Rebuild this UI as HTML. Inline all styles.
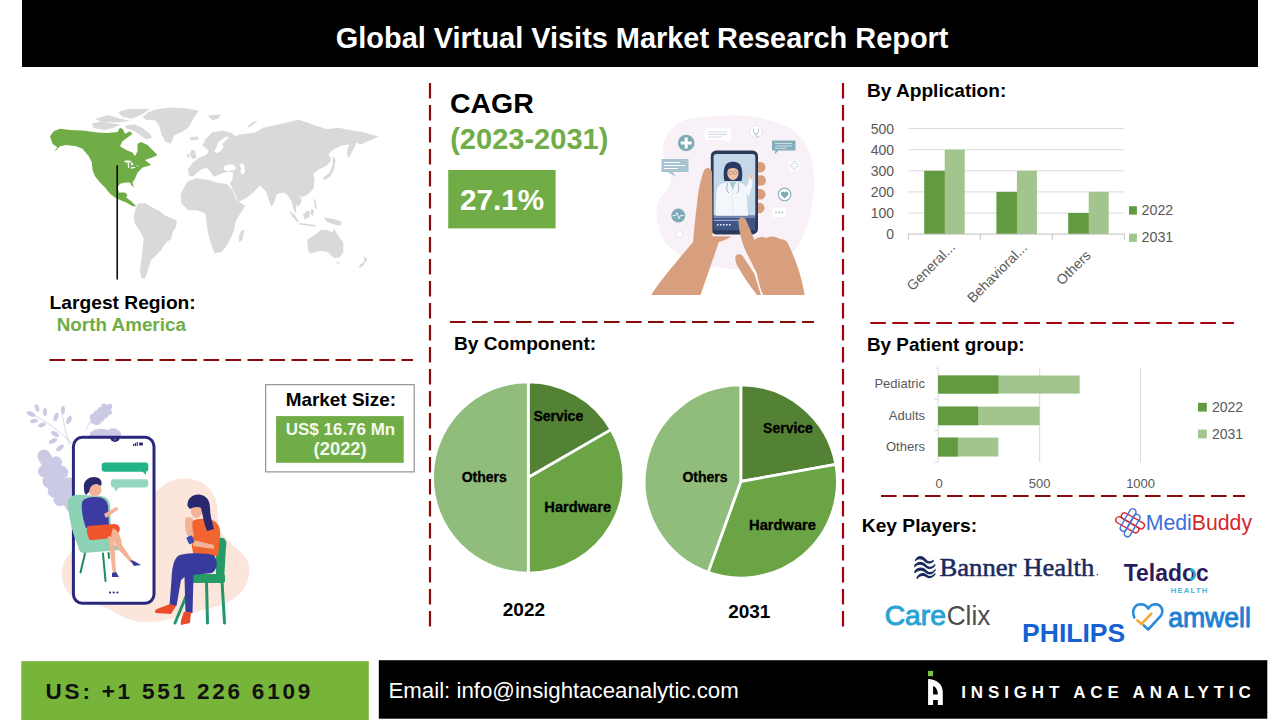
<!DOCTYPE html>
<html><head><meta charset="utf-8"><title>Global Virtual Visits Market Research Report</title>
<style>
html,body{margin:0;padding:0;background:#fff;}
body{width:1280px;height:720px;overflow:hidden;position:relative;font-family:"Liberation Sans",Arial,sans-serif;}
svg{position:absolute;left:0;top:0;}
text{font-family:"Liberation Sans",Arial,sans-serif;}
.b{font-weight:bold;}
</style></head>
<body>
<svg width="1280" height="720" viewBox="0 0 1280 720">
<!-- header -->
<rect x="22" y="0" width="1236" height="67" fill="#000"/>
<text x="335.81" y="47.5" font-size="28.9" class="b" fill="#fff" textLength="612.64" lengthAdjust="spacingAndGlyphs">Global Virtual Visits Market Research Report</text>

<!-- dashed separators -->
<g fill="none" stroke-width="2.2" stroke-dasharray="15.6 6.4">
<line x1="49.5" y1="360" x2="413" y2="360" stroke="#8B0A0A"/>
<line x1="430" y1="83" x2="430" y2="627" stroke="#8B0A0A"/>
<line x1="450" y1="322" x2="814" y2="322" stroke="#8B0A0A"/>
<line x1="843" y1="83" x2="843" y2="627" stroke="#A8000F"/>
<line x1="870.3" y1="323" x2="1234" y2="323" stroke="#A8000F"/>
<line x1="881" y1="496" x2="1245" y2="496" stroke="#8B0A0A"/>
</g>

<!-- MAP -->
<g id="map" fill="#D9D9D9">
<!-- MAPDATA -->
<polygon points="142.5,116.9 148.1,112.2 155.6,109.4 169.7,107.5 183.7,108 198.7,110.8 193.1,118.7 189.4,126.2 183.7,130.9 174.3,135.6 170.6,144 165,141.2 161.2,133.7 159.4,126.2 155.6,120.6 146.2,119.7"/>
<polygon points="118.1,112.2 127.5,108.9 150,108.9 142.5,114 132.2,118.7 122.8,116.9"/>
<polygon points="91.9,123.4 101.2,121.6 113.4,123.4 120.9,124.4 113.4,128.1 104.1,130 93.7,128.1"/>
<polygon points="125.6,125.3 135,124.4 142.5,128.1 150,133.7 151.9,137.5 146.2,139.4 140.6,135.6 134,130.9 125.6,128.1"/>
<polygon points="95,119 108,115 118,118 130,121 118,122.5 102,122"/>
<polygon points="189.4,137.5 197.8,136.6 198.7,139.4 191.2,140.3"/>
<polygon points="137.5,203.75 145,203.1 152.5,207.5 160,211.25 163.75,215 170,217.5 176.9,220.6 176.25,226.25 172.5,232.5 171.25,238.75 165,243.75 161.25,250 156.25,255 151.25,260 148.75,267.5 146.25,275 145,278.75 141.25,277.5 140,270 141.25,260 142.5,250 143.75,238.75 140,231.25 135,223.75 133.75,217.5 135,211.25"/>
<polygon points="188.9,175.6 187.8,168.9 193.3,162.2 198.9,157.8 206.7,154.4 208.9,151.1 205.6,147.8 202.2,145.6 205.6,138.9 212.2,132.2 222.2,130.6 232.2,133.3 235.6,136.7 238.3,134.7 255,132.6 263.3,127.8 275.8,125 288.3,122.2 298.1,119.4 306.4,122.2 316.1,125.7 327.2,129.2 338.3,127.8 352.2,130.6 363.3,131.9 378.6,136.8 370.3,140.3 360.6,144.4 356.5,142.8 354.5,147 351,153.5 348.5,158 347.2,154 347.5,148.5 349.4,144.4 341.1,145.8 332.8,150 328.6,154.2 331.4,159.7 327.2,165.3 318.9,169.4 313.3,173.6 314.7,180.6 313.3,188.9 307.8,194.4 302.2,197.2 300.3,195.3 301.7,200.8 298.9,206.4 296.1,205 296.1,211.9 294.7,213.3 293.3,207.8 291.9,202.2 287.8,195.3 283.6,192.5 276.7,193.9 273.9,203.6 271.1,206.4 266.9,193.9 265.6,191.1 260,185.6 253.6,192.2 246.7,197.8 238.3,201.9 235.6,195 230,183.9 232.8,178.3 233,172 226,172 218,175 213.3,176.7 211.1,172.2 206.7,167.8 200,170 197.8,172.2 194.4,176.7"/>
<polygon points="184.2,186.7 188.3,181.1 196.7,178.3 207.8,179.7 216.1,182.5 227.2,183.9 232.8,190.8 236.9,200.6 241.1,203.3 245.3,206.1 239.7,214.4 235.6,221.4 234.2,229.7 231.4,236.7 227.2,245 221.7,251.9 214.7,253.3 210.6,242.2 207.8,232.5 206.4,220 205,213.1 196.7,210.3 188.3,210.3 181.4,203.3 180.7,195"/>
<polygon points="241.1,231.1 244.6,229.7 242.5,239.4 239,242.2 239,235.3"/>
<polygon points="191.1,150 194.4,150 196.7,157.8 192.2,158.9 190,154.4"/>
<polygon points="186.7,154.4 189.4,153.9 189.4,157.2 187.2,157.8"/>
<polygon points="207.8,115.6 221.1,114.4 217.8,118.9 212.2,120"/>
<polygon points="246.7,127.8 252.2,122.2 257.8,121.1 250,127"/>
<polygon points="332.8,155.6 335.6,159.7 334.2,169.4 330,176.4 324.4,180.6 323.1,177.8 330,172.2 332.8,163.9"/>
<polygon points="348,148.6 350.8,147.2 349.4,156.9 347.4,155.6"/>
<polygon points="307.2,239.7 315.6,234.2 321.1,230 328.1,230 332.2,232.8 334.3,228.6 337.8,235.6 343.3,242.5 343.3,252.2 339.2,257.8 333.6,257.8 328.1,252.2 321.1,250.8 310,253.6 307.9,249.4"/>
<polygon points="336.4,261.9 339.9,262.6 337.8,264.7"/>
<polygon points="364.2,256.4 367.6,259.2 362.8,266.1 358.6,268.2 360,264.7 364.2,261.9"/>
<polygon points="289.2,210.6 294.7,214.7 298.9,221.7 297.5,222.4 291.9,216.1"/>
<polygon points="298.9,223.1 315.6,225.1 314.9,226.5 298.9,224.5"/>
<polygon points="303.1,214.7 307.2,210.6 310,211.3 309.3,217.5 304.4,219.6"/>
<polygon points="323.9,217.5 333.6,218.9 341.9,221.7 340.6,225.8 333.6,224.4 326.7,221.7"/>
<polygon points="313.5,198.1 315.6,200.8 316.9,209.2 314.9,207.8"/>
<polygon points="311,209 314,210 313,216 310.5,214"/>
<g fill="#fff">
<polygon points="216.5,153 214,151.5 216.5,147.5 218,142.5 221.5,140 226,136.5 229,137.5 225,141 222.5,144 223.5,147 221,150.5 218.5,152.5"/>
<polygon points="223.5,166.7 227,164.8 232.2,164.2 235.8,166.5 235.2,170 230,171 226.7,171.3 224,169.5"/>
<polygon points="239.5,164.5 242.5,163 244.5,166 245,171.5 242.5,175 240.5,172 241,168"/>
<polygon points="197,172.5 204,170.5 209,171 211.5,175 214.5,179 222,178 229,176.5 232,178.5 229,182.5 222,181.5 214,181 206,179 198,177.5 192,177.5"/>
</g>
<polygon points="50,136.25 53.75,131.25 60,128.75 70,130 82.5,130.6 97.5,132.5 107.5,133.1 117.5,131.9 120,127.5 123.1,129.4 125,133.75 130,131.25 132.5,133.75 127.5,137.5 122.5,141.25 120,146.25 126.25,150 132.5,152.5 135,156.25 137.5,151.25 137.5,143.75 141.25,141.9 147.5,145 152.5,150 157.5,155 152.5,157.5 145,160 151.25,165 142.5,167.5 137.5,172.5 135,178.75 132.5,182.5 133.75,187.5 131.25,185 130,182.5 125,182.5 120,183.75 117.5,187.5 118.75,192.5 125,192.5 127.5,195 126.25,197.5 131.25,201.25 136.25,206.25 132.5,206.25 126.25,202.5 120,200 115,197.5 110,193.75 105,187.5 100,182.5 95,176.25 92.5,170 91.9,162.5 88.75,156.25 82.5,148.75 76.25,146.25 66.25,145 60,146.25 56.25,150 53.75,151.25 57.5,147.5 52.5,143.75 51.25,140" fill="#70AD47"/>
<g fill="#fff">
<polygon points="123.5,161.5 127,160.3 131.5,161 130,162.8 126,162.6"/>
<polygon points="127.5,163 128.8,162.6 129.3,167.5 128.2,168"/>
<polygon points="130.5,162.5 132.5,162.8 133.5,165 131.5,165.5"/>
<polygon points="130,167.8 134,166.8 136,167.5 132,168.8"/>
<polygon points="135.8,165.8 138.5,165.5 138,166.6"/>
<polygon points="96.5,182 97.5,181.8 104,190 103,190.2"/>
</g>
<!-- /MAPDATA -->
</g>
<line x1="117.2" y1="165.3" x2="117.2" y2="279.5" stroke="#000" stroke-width="1.5"/>

<text x="49.62" y="308.9" font-size="19" class="b" fill="#000" textLength="146.13" lengthAdjust="spacingAndGlyphs">Largest Region:</text>
<text x="56.75" y="330.8" font-size="18.8" class="b" fill="#70AD47" textLength="129.14" lengthAdjust="spacingAndGlyphs">North America</text>

<!-- CAGR -->
<text x="449.93" y="113.3" font-size="28.3" class="b" fill="#000" textLength="83.95" lengthAdjust="spacingAndGlyphs">CAGR</text>
<text x="450.15" y="148.6" font-size="29" class="b" fill="#70AD47" textLength="158.29" lengthAdjust="spacingAndGlyphs">(2023-2031)</text>
<rect x="448.2" y="170" width="107.4" height="58.4" fill="#70AD47"/>
<text x="459.97" y="210" font-size="29" class="b" fill="#fff" textLength="84.11" lengthAdjust="spacingAndGlyphs">27.1%</text>

<!-- PHONE ILLUSTRATION -->
<g id="phone-illu">
<!-- PHONEILLU -->
<path d="M658.5,225 C655,215 656,205 660,198 C666,192 672,185 671,175 C670,165 663,160 663,150 C663,140 668,130 680,122 C692,116 710,117 725,115.5 C745,114 765,117 785,126 C800,133 810,145 813,165 C816,185 813,205 808,222 C803,240 795,255 777,265.7 C760,272 730,270 706,265.7 C688,262 672,252 665,242 C661,236 659,231 658.5,225 Z" fill="#F8F1F8"/>
<!-- icons -->
<circle cx="686.2" cy="143" r="8.3" fill="#7EAAB6"/>
<path d="M684.7,137.5h3v4h4v3h-4v4h-3v-4h-4v-3h4z" fill="#fff"/>
<path d="M661.5,159 h27 v13 h-16 l4,5 -9,-5 h-6 z" fill="#A8C3D1"/>
<g stroke="#fff" stroke-width="1"><line x1="664" y1="162.5" x2="680" y2="162.5"/><line x1="664" y1="165.5" x2="685" y2="165.5"/><line x1="664" y1="168.5" x2="678" y2="168.5"/></g>
<path d="M705,128.5 h26 v11.5 h-3 l3,3 -7,-3 h-19 z" fill="#fff"/>
<g stroke="#C9D6DF" stroke-width="0.9"><line x1="708" y1="132" x2="727" y2="132"/><line x1="708" y1="134.5" x2="727" y2="134.5"/><line x1="708" y1="137" x2="722" y2="137"/></g>
<path d="M772,140.5 h23.5 v10 h-17 l-4,4 1,-4 h-3.5 z" fill="#82AEBB"/>
<g stroke="#D7E6EB" stroke-width="0.9"><line x1="775" y1="143.5" x2="792" y2="143.5"/><line x1="775" y1="146" x2="792" y2="146"/><line x1="775" y1="148.3" x2="786" y2="148.3"/></g>
<circle cx="756" cy="131.5" r="6" fill="#fff" stroke="#E3E0EA" stroke-width="0.8"/>
<path d="M753.5,128.5 v3 a2.5,2.5 0 0 0 5,0 v-3 M756,134 v2 a2,2 0 0 0 3,0" fill="none" stroke="#9BB5C0" stroke-width="0.8"/>
<circle cx="794.4" cy="165.4" r="6" fill="#fff"/>
<path d="M793,161.5h2.8v2.5h2.5v2.8h-2.5v2.5h-2.8v-2.5h-2.5v-2.8h2.5z" fill="none" stroke="#C8D6DE" stroke-width="0.8"/>
<circle cx="784.6" cy="194.5" r="6.3" fill="#fff" stroke="#8DB5C0" stroke-width="1.2"/>
<path d="M784.6,198.5 l-3.4,-3.4 a2,2 0 0 1 3.4,-2.6 a2,2 0 0 1 3.4,2.6 z" fill="#7EAAB6"/>
<path d="M772.5,208 h13 v9 h-13 z" fill="#fff"/>
<g fill="#B5B9C4"><circle cx="776" cy="212.5" r="0.9"/><circle cx="779" cy="212.5" r="0.9"/><circle cx="782" cy="212.5" r="0.9"/></g>
<circle cx="678.3" cy="215.6" r="7" fill="#7EAAB6"/>
<path d="M672.5,215.6 h3 l1.5,-3 l2,6 l1.5,-3 h3.5" fill="none" stroke="#fff" stroke-width="0.9"/>
<circle cx="679.6" cy="234" r="3.5" fill="#fff" stroke="#DDD8E6" stroke-width="0.8"/>
<!-- left arm / palm behind phone -->
<path d="M651.3,295 C660,280 680,258 693,242 L700,236 L731.4,236.6 C726,240 722,241 718.8,242.2 L700.5,295 Z" fill="#D89F7E"/>
<!-- fingers on right side -->
<g fill="#D89F7E">
<rect x="752" y="162" width="13.5" height="10.5" rx="5.2"/>
<rect x="752" y="175.2" width="14" height="10.5" rx="5.2"/>
<rect x="752" y="189" width="13.5" height="10.5" rx="5.2"/>
<rect x="752" y="202.8" width="12.5" height="10.5" rx="5.2"/>
</g>
<!-- phone -->
<rect x="710.8" y="150.4" width="47.2" height="84" rx="5.5" fill="#2C3959"/>
<path d="M713.6,157 a3,3 0 0 1 3,-3 h35.7 a3,3 0 0 1 3,3 v58.7 h-41.7 z" fill="#C5D8EA"/>
<rect x="713.6" y="215.7" width="41.7" height="14.6" fill="#3F5587"/>
<rect x="713.6" y="216.5" width="41.7" height="1.1" fill="#9DB1D2"/>
<rect x="713.6" y="219.8" width="30" height="1.1" fill="#9DB1D2"/>
<g fill="#E6ECF5"><rect x="717" y="224" width="1.6" height="1.6"/><rect x="720" y="224" width="1.6" height="1.6"/><rect x="723" y="224" width="1.6" height="1.6"/><rect x="726" y="224" width="1.6" height="1.6"/><rect x="729" y="224" width="1.6" height="1.6"/></g>
<!-- doctor -->
<path d="M724.5,181 C723,175 723.5,166 727,163.5 C730,161 736,161 739,163.5 C742.5,166.5 743,175 741.5,181 Z" fill="#283B63"/>
<ellipse cx="732.9" cy="173.3" rx="5.6" ry="6.8" fill="#F2C4A7"/>
<path d="M726.8,170.5 C727.5,165 731,164 733.5,164.2 C737,164.5 739,167 739,170.5 C736,167.5 731,167 726.8,170.5 Z" fill="#283B63"/>
<g fill="none" stroke="#A07B6A" stroke-width="0.6"><circle cx="730.4" cy="172.8" r="1.8"/><circle cx="735" cy="172.8" r="1.8"/></g>
<path d="M715.5,215.7 L716.5,192 C717,186 720,184 726,182.5 L732.7,181.5 L739.5,182.5 C743,183.5 745,185 746,188 L748,215.7 Z" fill="#F3F7FB"/>
<path d="M744.5,190 L748.5,182 L750,174.5 L752.5,175 L752.3,185 L749,197 Z" fill="#F3F7FB"/>
<ellipse cx="751.2" cy="176.5" rx="1.7" ry="3" fill="#F2C4A7"/>
<path d="M729.5,182 L732.7,190 L736,182 Z" fill="#A9C7CF"/>
<path d="M727.5,183 q-2,8 1.5,10 M738,183 q2,8 -1,10" fill="none" stroke="#8F9CAA" stroke-width="0.8"/>
<line x1="732.7" y1="190" x2="732.7" y2="215.7" stroke="#D5DEE8" stroke-width="0.6"/>
<!-- left thumb (over phone edge) -->
<path d="M693,243 C694,228 696,212 698,195 C699.5,185 702,176 703.2,172.5 C704.5,166.5 711.5,166.5 712,172.5 L712.3,200 L712.5,238 Z" fill="#D89F7E"/>
<!-- right hand -->
<path d="M738.5,222 C738,216.5 745,216 746.5,221 L754.5,240 C757,237 762,236 766,238 C770,235.5 776,236 780,239 C785,239 788,242 789,246 C796,260 802,278 804.6,295 L763,295 C760,288 758,280 756.7,273 L746.9,253.4 C742,243 739,232 738.5,222 Z" fill="#D89F7E"/>
<path d="M735.6,256.3 C736.5,253.5 741,253.5 743,256.5 L754.5,274 L761,295 L757,295 C750,286 743,276 737.5,266 C735.5,262 735,259 735.6,256.3 Z" fill="#D89F7E"/>
<!-- /PHONEILLU -->
</g>

<!-- By Component -->
<text x="453.97" y="350.4" font-size="19" class="b" fill="#000" textLength="142.27" lengthAdjust="spacingAndGlyphs">By Component:</text>
<g stroke="#fff" stroke-width="2.8" stroke-linejoin="round">
<path d="M528.25,477.45 L528.25,381.75 A95.7,95.7 0 0 1 611.13,429.60 Z" fill="#548235"/>
<path d="M528.25,477.45 L611.13,429.60 A95.7,95.7 0 0 1 528.25,573.15 Z" fill="#6AA445"/>
<path d="M528.25,477.45 L528.25,573.15 A95.7,95.7 0 0 1 528.25,381.75 Z" fill="#90BC7C"/>
<path d="M740.8,481.5 L740.80,384.90 A96.6,96.6 0 0 1 835.87,464.39 Z" fill="#548235"/>
<path d="M740.8,481.5 L835.87,464.39 A96.6,96.6 0 0 1 708.08,572.39 Z" fill="#6AA445"/>
<path d="M740.8,481.5 L708.08,572.39 A96.6,96.6 0 0 1 740.80,384.90 Z" fill="#90BC7C"/>
</g>
<g font-size="14" class="b" fill="#000" stroke="#000" stroke-width="0.3" text-anchor="middle">
<text x="558.3" y="421.3">Service</text>
<text x="484.2" y="481.7">Others</text>
<text x="577.7" y="512" textLength="66.8" lengthAdjust="spacingAndGlyphs">Hardware</text>
<text x="788" y="432.7">Service</text>
<text x="705" y="482.2">Others</text>
<text x="782.5" y="530.2" textLength="66.8" lengthAdjust="spacingAndGlyphs">Hardware</text>
</g>
<text x="523.9" y="615.8" font-size="19" class="b" fill="#000" text-anchor="middle">2022</text>
<text x="749.3" y="618.1" font-size="19" class="b" fill="#000" text-anchor="middle">2031</text>

<!-- By Application -->
<text x="866.93" y="96.6" font-size="19" class="b" fill="#000" textLength="139.4" lengthAdjust="spacingAndGlyphs">By Application:</text>
<g stroke="#D9D9D9" stroke-width="1">
<line x1="908.3" y1="128.6" x2="1124.3" y2="128.6"/>
<line x1="908.3" y1="149.7" x2="1124.3" y2="149.7"/>
<line x1="908.3" y1="170.8" x2="1124.3" y2="170.8"/>
<line x1="908.3" y1="191.9" x2="1124.3" y2="191.9"/>
<line x1="908.3" y1="213" x2="1124.3" y2="213"/>
</g>
<g fill="#629A3F">
<rect x="924.2" y="170.8" width="21.3" height="63.3"/>
<rect x="996.4" y="191.9" width="21.3" height="42.2"/>
<rect x="1068.2" y="213" width="21.3" height="21.1"/>
</g>
<g fill="#A1C58D">
<rect x="944.7" y="149.7" width="20" height="84.4"/>
<rect x="1016.9" y="170.8" width="20" height="63.3"/>
<rect x="1088.7" y="191.9" width="20" height="42.2"/>
</g>
<g stroke="#BFBFBF" stroke-width="1">
<line x1="908.3" y1="234.1" x2="1124.3" y2="234.1"/>
<line x1="908.3" y1="234.1" x2="908.3" y2="239.5"/>
<line x1="980.3" y1="234.1" x2="980.3" y2="239.5"/>
<line x1="1052.3" y1="234.1" x2="1052.3" y2="239.5"/>
<line x1="1124.3" y1="234.1" x2="1124.3" y2="239.5"/>
</g>
<g font-size="14" fill="#595959" text-anchor="end">
<text x="894" y="133.6">500</text>
<text x="894" y="154.7">400</text>
<text x="894" y="175.8">300</text>
<text x="894" y="196.9">200</text>
<text x="894" y="218">100</text>
<text x="894" y="239.1">0</text>
</g>
<g font-size="14" fill="#595959" text-anchor="end">
<text transform="translate(956,248) rotate(-45)">General...</text>
<text transform="translate(1028,248.5) rotate(-45)">Behavioral...</text>
<text transform="translate(1091.8,256.2) rotate(-45)">Others</text>
</g>
<rect x="1129" y="206.2" width="7.9" height="8.4" fill="#629A3F"/>
<rect x="1129" y="233.6" width="7.9" height="8.3" fill="#A1C58D"/>
<g font-size="14.3" fill="#595959">
<text x="1141.5" y="214.9">2022</text>
<text x="1141.5" y="241.7">2031</text>
</g>

<!-- By Patient group -->
<text x="866.94" y="351" font-size="19" class="b" fill="#000" textLength="157.58" lengthAdjust="spacingAndGlyphs">By Patient group:</text>
<g stroke="#D9D9D9" stroke-width="1">
<line x1="1039.7" y1="368" x2="1039.7" y2="462"/>
<line x1="1140.6" y1="368" x2="1140.6" y2="462"/>
</g>
<g stroke="#D9D9D9" stroke-width="1">
<line x1="938.1" y1="368" x2="938.1" y2="462"/>
<line x1="934.5" y1="368" x2="938.1" y2="368"/>
<line x1="934.5" y1="399.3" x2="938.1" y2="399.3"/>
<line x1="934.5" y1="430.6" x2="938.1" y2="430.6"/>
<line x1="934.5" y1="462" x2="938.1" y2="462"/>
</g>
<g fill="#A1C58D">
<rect x="938.1" y="375.5" width="141.6" height="18.1"/>
<rect x="938.1" y="406.6" width="101.6" height="18.6"/>
<rect x="938.1" y="437.6" width="60.3" height="18.9"/>
</g>
<g fill="#629A3F">
<rect x="938.1" y="375.5" width="60.3" height="18.1"/>
<rect x="938.1" y="406.6" width="40" height="18.6"/>
<rect x="938.1" y="437.6" width="19.7" height="18.9"/>
</g>
<g font-size="13" fill="#595959" text-anchor="end">
<text x="925" y="388.3">Pediatric</text>
<text x="925" y="419.9">Adults</text>
<text x="925" y="451.2">Others</text>
</g>
<g font-size="13" fill="#595959" text-anchor="middle">
<text x="939" y="487.7">0</text>
<text x="1039.7" y="487.7">500</text>
<text x="1140.6" y="487.7">1000</text>
</g>
<rect x="1198" y="402.8" width="8.8" height="8.8" fill="#629A3F"/>
<rect x="1198" y="429.6" width="8.8" height="8.8" fill="#A1C58D"/>
<g font-size="14" fill="#595959">
<text x="1211.9" y="411.8">2022</text>
<text x="1211.9" y="438.8">2031</text>
</g>

<!-- Market size -->
<rect x="265.7" y="384.7" width="148.5" height="87.2" fill="#fff" stroke="#7F7F7F" stroke-width="1"/>
<text x="285.74" y="406.3" font-size="19" class="b" fill="#000" textLength="110.28" lengthAdjust="spacingAndGlyphs">Market Size:</text>
<rect x="276.1" y="416.1" width="127.6" height="46.7" fill="#70AD47"/>
<text x="285.78" y="434.8" font-size="16.8" class="b" fill="#F4FAEE" textLength="109.48" lengthAdjust="spacingAndGlyphs">US$ 16.76 Mn</text>
<text x="313.58" y="455.2" font-size="17.5" class="b" fill="#F4FAEE" textLength="53.13" lengthAdjust="spacingAndGlyphs">(2022)</text>

<!-- PEOPLE ILLUSTRATION -->
<g id="people-illu">
<!-- PEOPLEILLU -->
<!-- peach blob -->
<path d="M66,590 C58,575 62,560 72,552 L72,500 C100,495 140,498 155.6,492 C165,482 175,478 186,478.5 C200,479 210,486 215.6,499 C219,510 216,522 220,530 C225,540 238,548 246,558 C252,568 249,582 243,590 C235,600 222,606 211,608 C200,611 192,613 180,616 C165,621 150,624 135,621 C120,618 112,608 95,604 C82,601 72,598 66,590 Z" fill="#FCE5DB"/>
<!-- lavender plants -->
<g fill="#CBCAE4">
<path d="M72,506 L44,456" stroke="#CBCAE4" stroke-width="13" stroke-linecap="round" fill="none"/>
<circle cx="75.7" cy="497.3" r="7"/>
<circle cx="59.9" cy="499.7" r="6.5"/>
<circle cx="54.8" cy="490.7" r="7.2"/>
<circle cx="68.5" cy="484.3" r="7"/>
<circle cx="49.5" cy="481.2" r="7"/>
<circle cx="61.7" cy="472.3" r="6.5"/>
<circle cx="43.9" cy="471.2" r="6"/>
<circle cx="56.1" cy="462.3" r="6"/>
<circle cx="44.8" cy="457.5" r="5.5"/>
<ellipse cx="101.5" cy="413.8" rx="14" ry="4.5" transform="rotate(-42 101.5 413.8)"/>
<ellipse cx="97.2" cy="422.5" rx="3.6" ry="2.6" transform="rotate(-7 97.2 422.5)"/>
<ellipse cx="92.4" cy="417.1" rx="3.6" ry="2.6" transform="rotate(-77 92.4 417.1)"/>
<ellipse cx="100.9" cy="419.2" rx="3.6" ry="2.6" transform="rotate(-7 100.9 419.2)"/>
<ellipse cx="96.1" cy="413.8" rx="3.6" ry="2.6" transform="rotate(-77 96.1 413.8)"/>
<ellipse cx="104.7" cy="415.8" rx="3.6" ry="2.6" transform="rotate(-7 104.7 415.8)"/>
<ellipse cx="99.8" cy="410.5" rx="3.6" ry="2.6" transform="rotate(-77 99.8 410.5)"/>
<ellipse cx="108.4" cy="412.5" rx="3.6" ry="2.6" transform="rotate(-7 108.4 412.5)"/>
<ellipse cx="103.5" cy="407.1" rx="3.6" ry="2.6" transform="rotate(-77 103.5 407.1)"/>
<path d="M90,433 C95,428 102,428 108,430 C112,427 118,428 121,433 L121,438 L90,438 Z"/>
<ellipse cx="31" cy="414" rx="4.5" ry="2.2" transform="rotate(25 31 414)"/>
<ellipse cx="34" cy="421" rx="4" ry="2" transform="rotate(-15 34 421)"/>
<ellipse cx="37" cy="408" rx="2" ry="4" transform="rotate(-20 37 408)"/>
<ellipse cx="45" cy="412" rx="2" ry="4"/>
<ellipse cx="42" cy="425" rx="4" ry="2" transform="rotate(-20 42 425)"/>
<ellipse cx="56" cy="417" rx="2.2" ry="4.5" transform="rotate(20 56 417)"/>
<ellipse cx="63" cy="410" rx="2" ry="4"/>
<ellipse cx="69" cy="420" rx="2.2" ry="4.5" transform="rotate(25 69 420)"/>
<ellipse cx="55" cy="434" rx="4.5" ry="2.2" transform="rotate(30 55 434)"/>
<ellipse cx="53" cy="441" rx="4.5" ry="2.2" transform="rotate(-25 53 441)"/>
<ellipse cx="60" cy="448" rx="4.5" ry="2.2" transform="rotate(-40 60 448)"/>
</g>
<g fill="none" stroke="#CBCAE4" stroke-width="0.8">
<path d="M30,413 C45,420 60,432 72,443"/>
<path d="M62,412 C64,425 66,435 70,445"/>
<path d="M86,430 C90,420 95,413 100,410"/>
</g>
<!-- phone -->
<rect x="73.4" y="437.3" width="80.6" height="166" rx="9" fill="#fff" stroke="#29287A" stroke-width="3"/>
<path d="M110,437 a5,5 0 0 0 10,0 z" fill="#29287A"/>
<circle cx="115" cy="439.5" r="1.2" fill="#5A5AA8"/>
<g fill="#29287A"><rect x="133" y="444" width="1.2" height="2"/><rect x="134.8" y="443" width="1.2" height="3"/><rect x="136.6" y="442" width="1.2" height="4"/><rect x="139" y="442.5" width="4" height="3" rx="0.8"/></g>
<rect x="101.7" y="462.5" width="46.6" height="9.2" rx="3" fill="#20B487"/>
<path d="M142,471 l4,4 l0,-4 z" fill="#20B487"/>
<rect x="110.8" y="479.2" width="37.5" height="8.3" rx="3" fill="#95D6C0"/>
<path d="M114,487 l1.5,4.5 l4,-4.5 z" fill="#95D6C0"/>
<g fill="#29287A"><circle cx="110" cy="592.5" r="1.1"/><circle cx="113.7" cy="592.5" r="1.1"/><circle cx="117.4" cy="592.5" r="1.1"/></g>
<!-- woman 1 chair -->
<path d="M68,505 C66,497 74,494 82,495 L100,496 C106,496 110,500 110,506 L112,545 C116,545 120,546 120,550 L84,553 C80,553 79,550 78,546 C72,532 69,518 68,505 Z" fill="#8ED2B6"/>
<g stroke="#1E8A5E" stroke-width="2" stroke-linecap="round">
<line x1="85" y1="553.5" x2="80.5" y2="572.5"/>
<line x1="103" y1="553.5" x2="105.5" y2="581"/>
<line x1="108.5" y1="553" x2="109" y2="558"/>
</g>
<!-- woman 1 body -->
<path d="M82,502 C84,498 90,497 96,497 C103,497 107,500 108,506 L109,527 L86,528 C83,520 81,510 82,502 Z" fill="#3C3BA2"/>
<path d="M104,514 L116,507 L119,509 L106,518 Z" fill="#F2B396"/>
<path d="M87.5,526 L114,524 C119,524 121,528 119,532 C116,538 100,540 90,540 C87,536 86,530 87.5,526 Z" fill="#F0542B"/>
<path d="M113,528 C118,530 121,536 122,545 L133,561 L131,563 L118,549 C116,545 113,540 111,535 Z" fill="#F2B396"/>
<path d="M108,536 L114,537 L116,574 L113,575 Z" fill="#F2B396"/>
<path d="M112,573 L116,572 L119,577 L112,577 Z" fill="#3A3AA0"/>
<path d="M130,560 L134,561 L141,565 L134,566 Z" fill="#3A3AA0"/>
<ellipse cx="95" cy="490" rx="6.5" ry="6.5" fill="#F2B396"/>
<path d="M84,488 C83,481 88,477 94,477 C100,477 103,481 101,486 L97,484 C93,484 90,486 89,492 L86,495 C84,493 84,490 84,488 Z" fill="#28286C"/>
<!-- woman 2 chair -->
<g fill="#259B68">
<path d="M216,540 C217,537 221,537 223,538 C226,539 227,543 226,547 L224,580 L216,580 Z"/>
<rect x="190" y="574" width="35" height="9" rx="2"/>
</g>
<g stroke="#22956A" stroke-width="3" stroke-linecap="round">
<line x1="192" y1="582" x2="175" y2="623"/>
<line x1="206.5" y1="582" x2="207.5" y2="623"/>
<line x1="222" y1="581" x2="224.5" y2="623"/>
</g>
<!-- woman 2 body -->
<path d="M191,522 C195,518 205,518 212,520 C218,522 221,528 220,536 L218,556 L194,557 C191,545 190,532 191,522 Z" fill="#F26530"/>
<path d="M213.5,555 C205,553 185,552 178,556 C173,560 172,570 171.5,580 L169.5,605 L176.5,606 L181,580 L184.5,577 L185.5,613 L192.5,613 L193.5,575 L212,573 C217.5,570 218.5,560 213.5,555 Z" fill="#393A9E"/>
<path d="M170,604 L176,606 L171,614 L156,613 C154,612 155,610 157,609 Z" fill="#E94D2B"/>
<path d="M184,612 L191,612 L190,623 L181,625 C180,622 182,617 184,612 Z" fill="#E94D2B"/>
<path d="M186,517 C184,525 185,534 190,538 L194,536 C192,530 192,523 193,518 Z" fill="#F2B396"/>
<path d="M193,540 L214,545 L214,549 L193,546 Z" fill="#F2B396"/>
<rect x="187.5" y="536" width="6" height="7.5" rx="1" transform="rotate(-25 190.5 540)" fill="#3A4DB5"/>
<ellipse cx="196.5" cy="511" rx="5.5" ry="7" fill="#F2B396"/>
<path d="M187.5,506 C187,498 193,494 199,494.5 C206,495 210,500 210,508 C210,515 212,522 214,529 L207,531 C204,524 203,516 201,508 C198,506 193,507 190,509 Z" fill="#28286E"/>
<!-- /PEOPLEILLU -->
</g>

<!-- Key players -->
<text x="861.81" y="531.6" font-size="19" class="b" fill="#000" textLength="115.33" lengthAdjust="spacingAndGlyphs">Key Players:</text>
<!-- LOGOS -->
<!-- MediBuddy -->
<g transform="translate(1130.1,522.8)" fill="none" stroke-width="1.4">
<g transform="rotate(30)" stroke="#D9262E">
<rect x="-11.4" y="-6.3" width="25.6" height="6.4" rx="3.2"/>
<rect x="-14.2" y="-0.1" width="25.6" height="6.4" rx="3.2"/>
</g>
<g transform="rotate(-60)" stroke="#3A72D9">
<rect x="-11.1" y="-6.3" width="25" height="6.4" rx="3.2"/>
<rect x="-13.9" y="-0.1" width="25" height="6.4" rx="3.2"/>
</g>
</g>
<text x="1145.76" y="530.2" font-size="21.2" textLength="106.29" lengthAdjust="spacingAndGlyphs"><tspan fill="#3A70D8">Medi</tspan><tspan fill="#D6272E">Buddy</tspan></text>
<!-- Banner Health -->
<g fill="#1B2A5E">
<path d="M914.8,560.5 C916.5,555.5 922,554.5 925.5,558.8 C928,562 931,562 933.5,559.5 L934,561 C931,564.5 927,564.3 924.5,561.5 C921.5,558.3 917.5,558.5 915.5,561.5 Z"/>
<path d="M913.8,566.3 C916,561 922.5,560.2 926,564.5 C928.8,567.8 932.5,567.3 935,563.8 L935.5,565.5 C932.5,569.8 928,570 925,567 C921.5,563.8 917,564.3 914.8,567.5 Z"/>
<path d="M914,572 C916.5,566.8 923,566.2 926.5,570.2 C929.3,573.2 933,572.5 935.5,568.5 L935.8,570.3 C933,575 928.5,575.5 925.5,572.8 C922,569.8 917.5,570.3 915,573.5 Z"/>
<path d="M916.2,578.5 C918,573 923.5,571.5 927,574.8 C929.5,577 932.8,576 935.3,572.8 L935.5,574.5 C932.8,578.3 929,579 926.3,577.2 C923,575 919.5,576 917.3,579 Z"/>
</g>
<text x="939.43" y="575.6" style="font-family:'Liberation Serif',serif" font-size="25.3" fill="#1B2A5E" stroke="#1B2A5E" stroke-width="0.5" textLength="154.92" lengthAdjust="spacingAndGlyphs">Banner Health</text>
<circle cx="1097.2" cy="574.8" r="0.7" fill="#1B2A5E"/>
<!-- Teladoc -->
<text x="1123.84" y="581" font-size="23" class="b" fill="#2B1A5C" textLength="84.83" lengthAdjust="spacingAndGlyphs">Teladoc</text>
<path d="M1190,569.6 A4.6,4.9 0 0 1 1190,579.4" fill="none" stroke="#23A9DB" stroke-width="2.8"/>
<text x="1170.68" y="592.5" font-size="7.8" class="b" fill="#4BB3DC" textLength="36.75" lengthAdjust="spacing">HEALTH</text>
<!-- CareClix -->
<text x="884.66" y="624.7" font-size="28" fill="#27A3D6" stroke="#27A3D6" stroke-width="0.9" textLength="61.29" lengthAdjust="spacingAndGlyphs">Care</text>
<text x="946.67" y="624.7" font-size="28" fill="#4D4D4F" textLength="43.71" lengthAdjust="spacingAndGlyphs">Clix</text>
<!-- Philips -->
<text x="1022.13" y="642.2" font-size="25.3" class="b" fill="#1461D2" textLength="103.11" lengthAdjust="spacingAndGlyphs">PHILIPS</text>
<!-- amwell -->
<path d="M1134.3,617.5 C1131.2,610 1135,604.3 1141,604.3 C1145,604.4 1147,606.5 1148.3,608.6 C1149.6,606.5 1152,604.3 1155.5,604.3 C1161.5,604.5 1164.5,611 1160.5,616.2 L1148.3,629.5 L1143.8,625.5" fill="none" stroke="#2A8BDA" stroke-width="2.6" stroke-linecap="round" stroke-linejoin="round"/>
<path d="M1137.4,620.3 L1141.3,624.2 L1151.2,613.8" fill="none" stroke="#F0A832" stroke-width="2.6" stroke-linecap="round" stroke-linejoin="round"/>
<text x="1168.17" y="627" font-size="27.3" fill="#1E80D4" stroke="#1E80D4" stroke-width="0.9" textLength="82.71" lengthAdjust="spacingAndGlyphs">amwell</text>
<!-- /LOGOS -->

<!-- footer -->
<rect x="21.3" y="661.2" width="347.5" height="58.8" fill="#77B43A"/>
<text x="45.55" y="699.4" font-size="22.5" class="b" fill="#111" textLength="264.69" lengthAdjust="spacing">US: +1 551 226 6109</text>
<rect x="378.8" y="660.2" width="888.5" height="58.5" fill="#000"/>
<text x="388.47" y="697.8" font-size="21.4" fill="#fff" textLength="350.19" lengthAdjust="spacingAndGlyphs">Email: info@insightaceanalytic.com</text>
<text x="961.26" y="697.9" font-size="17" class="b" fill="#fff" textLength="289.6" lengthAdjust="spacing">INSIGHT ACE ANALYTIC</text>
<!-- FOOTLOGO -->
<rect x="928" y="670.9" width="5.1" height="5.3" fill="#7DC242"/>
<path fill-rule="evenodd" fill="#fff" d="M928.1,679 L928.1,705 L933.1,705 L933.1,700 L937.8,700 L937.8,705 L942.8,705 L942.8,692 C942.8,684 936,679 928.1,679 Z M933.1,686 L933.1,694.4 L937.8,694.4 C937.8,690 936,687 933.1,686 Z"/>
<!-- /FOOTLOGO -->
</svg>
</body></html>
